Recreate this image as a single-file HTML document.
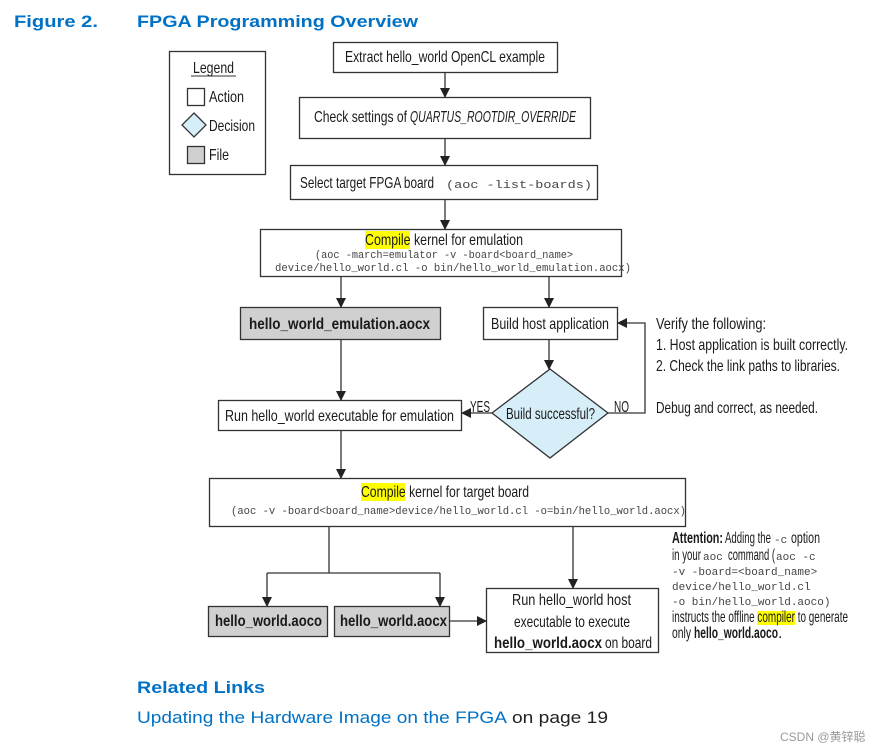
<!DOCTYPE html>
<html><head><meta charset="utf-8"><style>
html,body{margin:0;padding:0;background:#fff;}
svg{display:block;}
.t{font-family:"Liberation Sans",sans-serif;font-size:16px;fill:#1a1a1a;}
.m{font-family:"Liberation Mono",monospace;font-size:11px;fill:#444;}
.b{font-weight:bold;}
.bl{font-family:"Liberation Sans",sans-serif;font-weight:bold;fill:#0071c5;font-size:17px;}
</style></head><body>
<svg width="896" height="752" viewBox="0 0 896 752" xmlns="http://www.w3.org/2000/svg">
<defs><marker id="a" markerWidth="10" markerHeight="10" refX="9" refY="5" orient="auto" markerUnits="userSpaceOnUse"><path d="M0,0 L10,5 L0,10 z" fill="#222"/></marker></defs>
<text x="14" y="27" class="bl" textLength="84" lengthAdjust="spacingAndGlyphs">Figure 2.</text>
<text x="137" y="27" class="bl" textLength="281" lengthAdjust="spacingAndGlyphs">FPGA Programming Overview</text>

<g stroke="#333" stroke-width="1.3" fill="#fff">
<rect x="169.5" y="51.5" width="96" height="123"/>
<rect x="187.5" y="88.5" width="17" height="17"/>
<polygon points="194,113 206,125 194,137 182,125" fill="#d6eef7"/>
<rect x="187.5" y="146.5" width="17" height="17" fill="#d0d0d0"/>
<rect x="333.5" y="42.5" width="224" height="30"/>
<rect x="299.5" y="97.5" width="291" height="41"/>
<rect x="290.5" y="165.5" width="307" height="34"/>
<rect x="260.5" y="229.5" width="361" height="47"/>
<rect x="240.5" y="307.5" width="200" height="32" fill="#d0d0d0"/>
<rect x="483.5" y="307.5" width="134" height="32"/>
<polygon points="550,369 608,413 550,458 492,413" fill="#d6eef7"/>
<rect x="218.5" y="400.5" width="243" height="30"/>
<rect x="209.5" y="478.5" width="476" height="48"/>
<rect x="208.5" y="606.5" width="119" height="30" fill="#d0d0d0"/>
<rect x="334.5" y="606.5" width="115" height="30" fill="#d0d0d0"/>
<rect x="486.5" y="588.5" width="172" height="64"/>
</g>
<line x1="191" y1="76" x2="236" y2="76" stroke="#333"/>
<g stroke="#333" stroke-width="1.3" fill="none" marker-end="url(#a)">
<line x1="445" y1="73" x2="445" y2="97"/>
<line x1="445" y1="139" x2="445" y2="165"/>
<line x1="445" y1="200" x2="445" y2="229"/>
<line x1="341" y1="277" x2="341" y2="307"/>
<line x1="549" y1="277" x2="549" y2="307"/>
<line x1="549" y1="340" x2="549" y2="369"/>
<line x1="341" y1="340" x2="341" y2="400"/>
<line x1="492" y1="413" x2="462" y2="413"/>
<polyline points="608,413 645,413 645,323 618,323"/>
<line x1="341" y1="431" x2="341" y2="478"/>
<polyline points="267,573 267,606"/>
<polyline points="440,573 440,606"/>
<line x1="573" y1="527" x2="573" y2="588"/>
<line x1="450" y1="621" x2="486" y2="621"/>
</g>
<polyline points="329,527 329,573 267,573 440,573" stroke="#333" stroke-width="1.3" fill="none"/>

<text x="193" y="73" class="t" textLength="41" lengthAdjust="spacingAndGlyphs">Legend</text>
<text x="209" y="102" class="t" textLength="35" lengthAdjust="spacingAndGlyphs">Action</text>
<text x="209" y="131" class="t" textLength="46" lengthAdjust="spacingAndGlyphs">Decision</text>
<text x="209" y="160" class="t" textLength="20" lengthAdjust="spacingAndGlyphs">File</text>

<text x="345" y="62" class="t" textLength="200" lengthAdjust="spacingAndGlyphs">Extract hello_world OpenCL example</text>
<text x="314" y="122" class="t" textLength="93" lengthAdjust="spacingAndGlyphs">Check settings of</text>
<text x="410" y="122" class="t" font-style="italic" textLength="166" lengthAdjust="spacingAndGlyphs">QUARTUS_ROOTDIR_OVERRIDE</text>
<text x="300" y="188" class="t" textLength="134" lengthAdjust="spacingAndGlyphs">Select target FPGA board</text>
<text x="446" y="188" class="m" textLength="146" lengthAdjust="spacingAndGlyphs">(aoc -list-boards)</text>

<rect x="365" y="231" width="45" height="18" fill="#ffff00"/>
<text x="365" y="245" class="t" textLength="158" lengthAdjust="spacingAndGlyphs">Compile kernel for emulation</text>
<text x="315" y="258" class="m" textLength="258" lengthAdjust="spacingAndGlyphs">(aoc -march=emulator -v -board&lt;board_name&gt;</text>
<text x="275" y="271" class="m" textLength="356" lengthAdjust="spacingAndGlyphs">device/hello_world.cl -o bin/hello_world_emulation.aocx)</text>

<text x="249" y="329" class="t b" textLength="181" lengthAdjust="spacingAndGlyphs">hello_world_emulation.aocx</text>
<text x="491" y="329" class="t" textLength="118" lengthAdjust="spacingAndGlyphs">Build host application</text>
<text x="506" y="419" class="t" textLength="89" lengthAdjust="spacingAndGlyphs">Build successful?</text>
<text x="470" y="412" class="t" font-size="14" textLength="20" lengthAdjust="spacingAndGlyphs">YES</text>
<text x="614" y="412" class="t" font-size="14" textLength="15" lengthAdjust="spacingAndGlyphs">NO</text>
<text x="225" y="421" class="t" textLength="229" lengthAdjust="spacingAndGlyphs">Run hello_world executable for emulation</text>

<text x="656" y="329" class="t" font-size="15" textLength="110" lengthAdjust="spacingAndGlyphs">Verify the following:</text>
<text x="656" y="350" class="t" font-size="15" textLength="192" lengthAdjust="spacingAndGlyphs">1. Host application is built correctly.</text>
<text x="656" y="371" class="t" font-size="15" textLength="184" lengthAdjust="spacingAndGlyphs">2. Check the link paths to libraries.</text>
<text x="656" y="413" class="t" font-size="15" textLength="162" lengthAdjust="spacingAndGlyphs">Debug and correct, as needed.</text>

<rect x="361" y="483" width="44" height="18" fill="#ffff00"/>
<text x="361" y="497" class="t" textLength="168" lengthAdjust="spacingAndGlyphs">Compile kernel for target board</text>
<text x="231" y="514" class="m" textLength="455" lengthAdjust="spacingAndGlyphs">(aoc -v -board&lt;board_name&gt;device/hello_world.cl -o=bin/hello_world.aocx)</text>

<text x="215" y="626" class="t b" textLength="107" lengthAdjust="spacingAndGlyphs">hello_world.aoco</text>
<text x="340" y="626" class="t b" textLength="107" lengthAdjust="spacingAndGlyphs">hello_world.aocx</text>
<text x="512" y="605" class="t" textLength="119" lengthAdjust="spacingAndGlyphs">Run hello_world host</text>
<text x="514" y="627" class="t" textLength="116" lengthAdjust="spacingAndGlyphs">executable to execute</text>
<text x="494" y="648" class="t b" textLength="108" lengthAdjust="spacingAndGlyphs">hello_world.aocx</text>
<text x="605" y="648" class="t" textLength="47" lengthAdjust="spacingAndGlyphs">on board</text>

<g>
<text x="672" y="543" class="t b" font-size="12" textLength="51" lengthAdjust="spacingAndGlyphs">Attention:</text>
<text x="725" y="543" class="t" font-size="12" textLength="46" lengthAdjust="spacingAndGlyphs">Adding the</text>
<text x="774" y="543" class="m" font-size="11">-c</text>
<text x="791" y="543" class="t" font-size="12" textLength="29" lengthAdjust="spacingAndGlyphs">option</text>
<text x="672" y="560" class="t" font-size="12" textLength="29" lengthAdjust="spacingAndGlyphs">in your</text>
<text x="703" y="560" class="m" font-size="11">aoc</text>
<text x="728" y="560" class="t" font-size="12" textLength="47" lengthAdjust="spacingAndGlyphs">command (</text>
<text x="776" y="560" class="m" font-size="11">aoc -c</text>
<text x="672" y="575" class="m" font-size="11">-v -board=&lt;board_name&gt;</text>
<text x="672" y="590" class="m" font-size="11">device/hello_world.cl</text>
<text x="672" y="605" class="m" font-size="11">-o bin/hello_world.aoco)</text>
<rect x="757" y="611" width="38" height="14" fill="#ffff00"/>
<text x="672" y="622" class="t" font-size="12" textLength="176" lengthAdjust="spacingAndGlyphs">instructs the offline compiler to generate</text>
<text x="672" y="638" class="t" font-size="12" textLength="19" lengthAdjust="spacingAndGlyphs">only</text>
<text x="694" y="638" class="t b" font-size="12" textLength="84" lengthAdjust="spacingAndGlyphs">hello_world.aoco</text>
<text x="778" y="638" class="t" font-size="12">.</text>
</g>

<text x="137" y="693" class="bl" textLength="128" lengthAdjust="spacingAndGlyphs">Related Links</text>
<text x="137" y="723" font-family="Liberation Sans,sans-serif" font-size="17" fill="#0071c5" textLength="370" lengthAdjust="spacingAndGlyphs">Updating the Hardware Image on the FPGA</text>
<text x="512" y="723" font-family="Liberation Sans,sans-serif" font-size="17" fill="#222" textLength="96" lengthAdjust="spacingAndGlyphs">on page 19</text>
<text x="780" y="741" font-family="Liberation Sans,'Noto Sans CJK SC',sans-serif" font-size="12" fill="#999">CSDN @黄锌聪</text>
</svg>
</body></html>
